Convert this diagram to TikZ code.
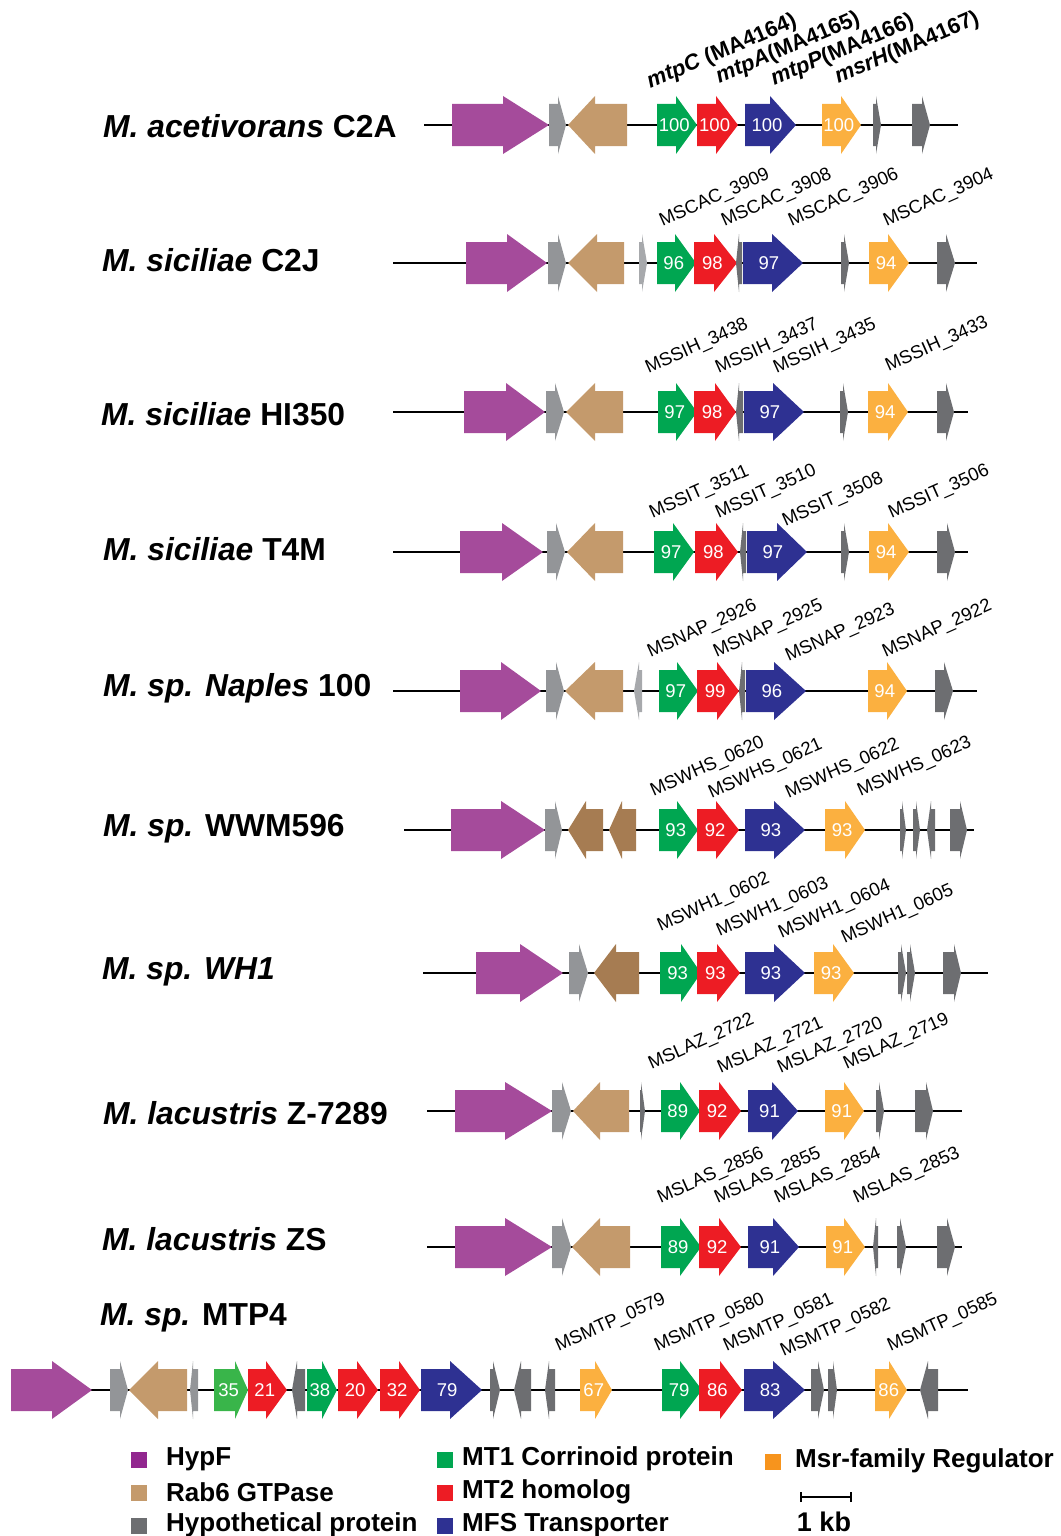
\documentclass[tikz,border=0pt]{standalone}
\usepackage{fontspec}
\setmainfont{Liberation Sans}
\definecolor{cMag}{HTML}{A54B9B}
\definecolor{cMagL}{HTML}{92278F}
\definecolor{cTan}{HTML}{C49A6C}
\definecolor{cBrn}{HTML}{A67C52}
\definecolor{cLg}{HTML}{939598}
\definecolor{cVlg}{HTML}{A7A9AC}
\definecolor{cDg}{HTML}{6D6E71}
\definecolor{cGrn}{HTML}{00A651}
\definecolor{cLgrn}{HTML}{39B54A}
\definecolor{cRed}{HTML}{ED1C24}
\definecolor{cBlu}{HTML}{2E3192}
\definecolor{cOrg}{HTML}{FBB040}
\definecolor{cOrgL}{HTML}{F7941D}
\newcommand{\gene}[5]{\fill[#5] (#1,#4-21) -- (#2,#4-21) -- (#2,#4-29) -- (#3,#4) -- (#2,#4+29) -- (#2,#4+21) -- (#1,#4+21) -- cycle;}
\newcommand{\gn}[7]{\gene{#1}{#2}{#3}{#4}{#5}\node[pct] (#7) at ({#1+0.43*(#3-#1)},#4) {#6};}
\newcommand{\gid}[4]{\node[gid] (#1) at (#2,#3) {#4};}
\begin{document}
\begin{tikzpicture}[x=1pt,y=-1pt,
  pct/.style={text=white,inner sep=0,font=\fontsize{18.5}{18.5}\selectfont},
  gid/.style={anchor=south west,rotate=24,inner sep=0,font=\fontsize{18.5}{18.5}\selectfont},
  gname/.style={anchor=south west,rotate=23,inner sep=0,font=\fontsize{22}{22}\selectfont\bfseries},
  title/.style={anchor=west,inner sep=0,font=\fontsize{31.8}{31.8}\selectfont\bfseries},
  backbone/.style={line width=2.3pt,black},
  legtext/.style={anchor=west,inner sep=0,font=\fontsize{26}{26}\selectfont\bfseries},
  legbox/.style={minimum size=16pt,inner sep=0}]
\useasboundingbox (0,0) rectangle (1060,1536);

% ---------- Row 1 ----------
\node[title] (s1) at (103,126) {\textit{M. acetivorans} C2A};
\coordinate (b1a) at (424,125); \coordinate (b1b) at (958,125);
\draw[backbone] (b1a) -- (b1b);
\gene{452}{503}{549}{125}{cMag}
\gene{549}{558}{566}{125}{cLg}
\gene{627}{595}{568}{125}{cTan}
\gn{657}{676}{697}{125}{cGrn}{100}{p1a}
\gn{697}{716}{738}{125}{cRed}{100}{p1b}
\gn{745}{770}{796}{125}{cBlu}{100}{p1c}
\gn{822}{841}{861}{125}{cOrg}{100}{p1d}
\gene{873}{876}{881}{125}{cDg}
\gene{912}{922}{930}{125}{cDg}
\node[gname] (l1a) at (652,93) {\textit{mtpC} (MA4164)};
\node[gname] (l1b) at (721,88) {\textit{mtpA}(MA4165)};
\node[gname] (l1c) at (776,90) {\textit{mtpP}(MA4166)};
\node[gname] (l1d) at (840,88) {\textit{msrH}(MA4167)};

% ---------- Row 2 ----------
\node[title] (s2) at (102,260) {\textit{M. siciliae} C2J};
\coordinate (b2a) at (393,263); \coordinate (b2b) at (977,263);
\draw[backbone] (b2a) -- (b2b);
\gene{466}{507}{547}{263}{cMag}
\gene{548}{558}{566}{263}{cLg}
\gene{624}{597}{568}{263}{cTan}
\gene{639}{642}{647}{263}{cVlg}
\gn{657}{675}{696}{263}{cGrn}{96}{p2a}
\gn{694}{714}{737}{263}{cRed}{98}{p2b}
\gene{742}{739}{736}{263}{cDg}
\gn{743}{772}{803}{263}{cBlu}{97}{p2c}
\gene{841}{844}{849}{263}{cDg}
\gn{869}{888}{909}{263}{cOrg}{94}{p2d}
\gene{937}{946}{955}{263}{cDg}
\gid{l2a}{664}{230}{MSCAC\_3909}
\gid{l2b}{726}{230}{MSCAC\_3908}
\gid{l2c}{793}{230}{MSCAC\_3906}
\gid{l2d}{888}{230}{MSCAC\_3904}

% ---------- Row 3 ----------
\node[title] (s3) at (101,414) {\textit{M. siciliae} HI350};
\coordinate (b3a) at (393,412); \coordinate (b3b) at (968,412);
\draw[backbone] (b3a) -- (b3b);
\gene{464}{506}{545}{412}{cMag}
\gene{546}{555}{564}{412}{cLg}
\gene{623}{595}{566}{412}{cTan}
\gn{658}{676}{697}{412}{cGrn}{97}{p3a}
\gn{694}{715}{736}{412}{cRed}{98}{p3b}
\gene{743}{739}{736}{412}{cDg}
\gn{744}{773}{804}{412}{cBlu}{97}{p3c}
\gene{840}{843}{848}{412}{cDg}
\gn{868}{888}{908}{412}{cOrg}{94}{p3d}
\gene{937}{946}{954}{412}{cDg}
\gid{l3a}{650}{377}{MSSIH\_3438}
\gid{l3b}{720}{377}{MSSIH\_3437}
\gid{l3c}{778}{377}{MSSIH\_3435}
\gid{l3d}{890}{375}{MSSIH\_3433}

% ---------- Row 4 ----------
\node[title] (s4) at (103,549) {\textit{M. siciliae} T4M};
\coordinate (b4a) at (393,552); \coordinate (b4b) at (968,552);
\draw[backbone] (b4a) -- (b4b);
\gene{460}{502}{543}{552}{cMag}
\gene{547}{556}{565}{552}{cLg}
\gene{623}{595}{567}{552}{cTan}
\gn{654}{673}{694}{552}{cGrn}{97}{p4a}
\gn{695}{716}{738}{552}{cRed}{98}{p4b}
\gene{746}{743}{740}{552}{cDg}
\gn{747}{777}{807}{552}{cBlu}{97}{p4c}
\gene{841}{844}{849}{552}{cDg}
\gn{869}{888}{909}{552}{cOrg}{94}{p4d}
\gene{937}{947}{955}{552}{cDg}
\gid{l4a}{654}{522}{MSSIT\_3511}
\gid{l4b}{720}{522}{MSSIT\_3510}
\gid{l4c}{787}{530}{MSSIT\_3508}
\gid{l4d}{893}{522}{MSSIT\_3506}

% ---------- Row 5 ----------
\node[title] (s5) at (103,688) {\textit{M. sp. Naples} 100};
\coordinate (b5a) at (393,691); \coordinate (b5b) at (977,691);
\draw[backbone] (b5a) -- (b5b);
\gene{460}{501}{541}{691}{cMag}
\gene{546}{556}{564}{691}{cLg}
\gene{623}{595}{565}{691}{cTan}
\gene{642}{639}{634}{691}{cVlg}
\gn{659}{677}{698}{691}{cGrn}{97}{p5a}
\gn{697}{717}{739}{691}{cRed}{99}{p5b}
\gene{745}{742}{739}{691}{cDg}
\gn{746}{774}{806}{691}{cBlu}{96}{p5c}
\gn{868}{887}{907}{691}{cOrg}{94}{p5d}
\gene{935}{944}{953}{691}{cDg}
\gid{l5a}{652}{661}{MSNAP\_2926}
\gid{l5b}{718}{661}{MSNAP\_2925}
\gid{l5c}{790}{665}{MSNAP\_2923}
\gid{l5d}{887}{661}{MSNAP\_2922}

% ---------- Row 6 ----------
\node[title] (s6) at (103,829) {\textit{M. sp.} WWM596};
\coordinate (b6a) at (404,830); \coordinate (b6b) at (974,830);
\draw[backbone] (b6a) -- (b6b);
\gene{451}{501}{545}{830}{cMag}
\gene{545}{555}{562}{830}{cLg}
\gene{603}{586}{568}{830}{cBrn}
\gene{636}{622}{609}{830}{cBrn}
\gn{659}{677}{698}{830}{cGrn}{93}{p6a}
\gn{697}{716}{739}{830}{cRed}{92}{p6b}
\gn{745}{774}{805}{830}{cBlu}{93}{p6c}
\gn{825}{845}{865}{830}{cOrg}{93}{p6d}
\gene{900}{902}{906}{830}{cDg}
\gene{913}{916}{920}{830}{cDg}
\gene{935}{931}{927}{830}{cDg}
\gene{950}{960}{967}{830}{cDg}
\gid{l6a}{655}{800}{MSWHS\_0620}
\gid{l6b}{713}{802}{MSWHS\_0621}
\gid{l6c}{790}{802}{MSWHS\_0622}
\gid{l6d}{862}{800}{MSWHS\_0623}

% ---------- Row 7 ----------
\node[title] (s7) at (102,972) {\textit{M. sp. WH1}};
\coordinate (b7a) at (423,973); \coordinate (b7b) at (988,973);
\draw[backbone] (b7a) -- (b7b);
\gene{476}{520}{563}{973}{cMag}
\gene{569}{579}{588}{973}{cLg}
\gene{639}{616}{594}{973}{cBrn}
\gn{660}{681}{701}{973}{cGrn}{93}{p7a}
\gn{697}{717}{740}{973}{cRed}{93}{p7b}
\gn{745}{774}{805}{973}{cBlu}{93}{p7c}
\gn{814}{833}{854}{973}{cOrg}{93}{p7d}
\gene{898}{901}{906}{973}{cDg}
\gene{907}{910}{915}{973}{cDg}
\gene{943}{954}{961}{973}{cDg}
\gid{l7a}{662}{935}{MSWH1\_0602}
\gid{l7b}{721}{940}{MSWH1\_0603}
\gid{l7c}{783}{942}{MSWH1\_0604}
\gid{l7d}{846}{947}{MSWH1\_0605}

% ---------- Row 8 ----------
\node[title] (s8) at (103,1113) {\textit{M. lacustris} Z-7289};
\coordinate (b8a) at (427,1111); \coordinate (b8b) at (962,1111);
\draw[backbone] (b8a) -- (b8b);
\gene{455}{505}{552}{1111}{cMag}
\gene{552}{562}{571}{1111}{cLg}
\gene{629}{600}{573}{1111}{cTan}
\gene{640}{641}{645}{1111}{cDg}
\gn{661}{680}{700}{1111}{cGrn}{89}{p8a}
\gn{699}{719}{741}{1111}{cRed}{92}{p8b}
\gn{748}{772}{798}{1111}{cBlu}{91}{p8c}
\gn{825}{844}{864}{1111}{cOrg}{91}{p8d}
\gene{876}{879}{884}{1111}{cDg}
\gene{915}{926}{933}{1111}{cDg}
\gid{l8a}{653}{1073}{MSLAZ\_2722}
\gid{l8b}{722}{1077}{MSLAZ\_2721}
\gid{l8c}{782}{1077}{MSLAZ\_2720}
\gid{l8d}{848}{1073}{MSLAZ\_2719}

% ---------- Row 9 ----------
\node[title] (s9) at (102,1239) {\textit{M. lacustris} ZS};
\coordinate (b9a) at (427,1247); \coordinate (b9b) at (962,1247);
\draw[backbone] (b9a) -- (b9b);
\gene{455}{505}{552}{1247}{cMag}
\gene{552}{562}{571}{1247}{cLg}
\gene{630}{600}{572}{1247}{cTan}
\gn{661}{680}{701}{1247}{cGrn}{89}{p9a}
\gn{699}{719}{741}{1247}{cRed}{92}{p9b}
\gn{748}{773}{799}{1247}{cBlu}{91}{p9c}
\gn{826}{844}{865}{1247}{cOrg}{91}{p9d}
\gene{878}{876}{873}{1247}{cDg}
\gene{897}{900}{906}{1247}{cDg}
\gene{937}{947}{955}{1247}{cDg}
\gid{l9a}{662}{1207}{MSLAS\_2856}
\gid{l9b}{719}{1207}{MSLAS\_2855}
\gid{l9c}{779}{1207}{MSLAS\_2854}
\gid{l9d}{858}{1207}{MSLAS\_2853}

% ---------- Row 10 ----------
\node[title] (s10) at (100,1318) {\textit{M. sp.} MTP4};
\coordinate (b10a) at (11,1390); \coordinate (b10b) at (968,1390);
\draw[backbone] (b10a) -- (b10b);
\gene{11}{52}{92}{1390}{cMag}
\gene{110}{120}{128}{1390}{cLg}
\gene{187}{158}{129}{1390}{cTan}
\gene{198}{193}{190}{1390}{cLg}
\gn{214}{235}{248}{1390}{cLgrn}{35}{p10a}
\gn{248}{266}{287}{1390}{cRed}{21}{p10b}
\gene{305}{297}{292}{1390}{cDg}
\gn{307}{322}{337}{1390}{cGrn}{38}{p10c}
\gn{338}{357}{378}{1390}{cRed}{20}{p10d}
\gn{380}{399}{420}{1390}{cRed}{32}{p10e}
\gn{421}{450}{482}{1390}{cBlu}{79}{p10f}
\gene{490}{493}{500}{1390}{cDg}
\gene{531}{521}{514}{1390}{cDg}
\gene{555}{549}{545}{1390}{cDg}
\gn{580}{595}{612}{1390}{cOrg}{67}{p10g}
\gn{662}{680}{702}{1390}{cGrn}{79}{p10h}
\gn{699}{720}{742}{1390}{cRed}{86}{p10i}
\gn{744}{773}{805}{1390}{cBlu}{83}{p10j}
\gene{811}{818}{824}{1390}{cDg}
\gene{828}{833}{837}{1390}{cDg}
\gn{875}{889}{907}{1390}{cOrg}{86}{p10k}
\gene{938}{928}{920}{1390}{cDg}
\gid{l10a}{560}{1355}{MSMTP\_0579}
\gid{l10b}{659}{1355}{MSMTP\_0580}
\gid{l10c}{728}{1355}{MSMTP\_0581}
\gid{l10d}{785}{1360}{MSMTP\_0582}
\gid{l10e}{892}{1355}{MSMTP\_0585}

% ---------- Legend ----------
\node[legbox,fill=cMagL] (k1) at (139,1460) {};
\node[legtext] (t1) at (166,1459) {HypF};
\node[legbox,fill=cTan] (k2) at (139,1493) {};
\node[legtext] (t2) at (166,1492) {Rab6 GTPase};
\node[legbox,fill=cDg] (k3) at (139,1526) {};
\node[legtext] (t3) at (166,1525) {Hypothetical protein};
\node[legbox,fill=cGrn] (k4) at (445,1460) {};
\node[legtext] (t4) at (462,1459) {MT1 Corrinoid protein};
\node[legbox,fill=cRed] (k5) at (445,1493) {};
\node[legtext] (t5) at (462,1492) {MT2 homolog};
\node[legbox,fill=cBlu] (k6) at (445,1526) {};
\node[legtext] (t6) at (462,1525) {MFS Transporter};
\node[legbox,fill=cOrgL] (k7) at (773,1462) {};
\node[legtext] (t7) at (795,1461) {Msr-family Regulator};
\coordinate (sb1) at (801,1497); \coordinate (sb2) at (851,1497);
\draw[line width=2pt] (sb1) -- (sb2);
\draw[line width=1.5pt] ([yshift=-5pt]sb1) -- ([yshift=5pt]sb1);
\draw[line width=1.5pt] ([yshift=-5pt]sb2) -- ([yshift=5pt]sb2);
\node[inner sep=0,font=\fontsize{27}{27}\selectfont\bfseries] (kb) at (824,1522) {1 kb};
\end{tikzpicture}
\end{document}
